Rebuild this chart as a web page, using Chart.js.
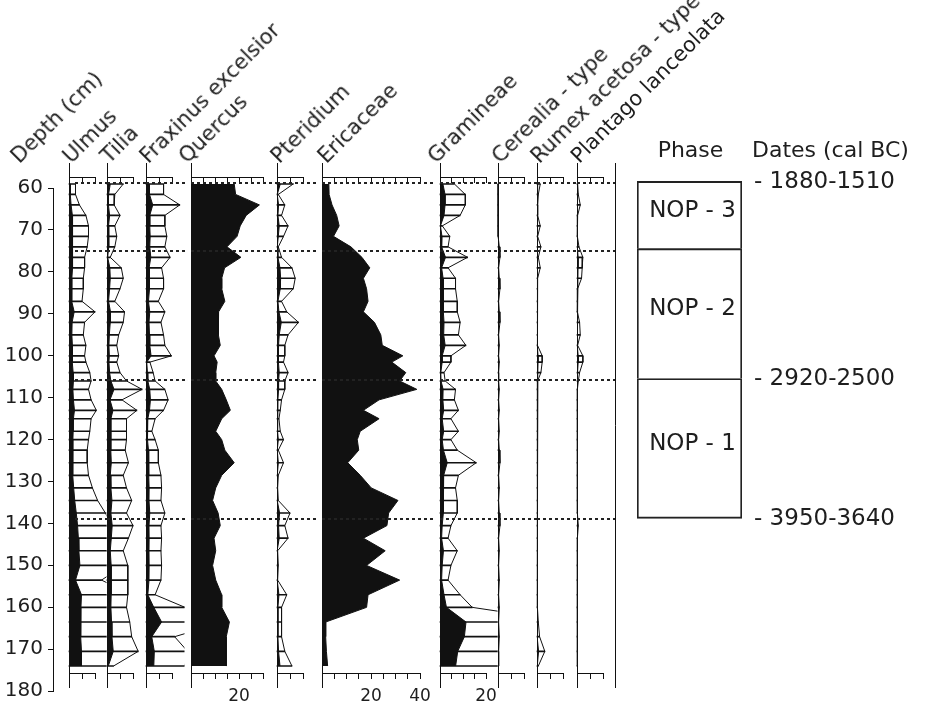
<!DOCTYPE html>
<html>
<head>
<meta charset="utf-8">
<script src="https://cdn.jsdelivr.net/npm/chart.js@4.4.1/dist/chart.umd.min.js"></script>
<style>
  body { margin: 0; background: #fff; }
  #wrap { position: relative; width: 931px; height: 712px; overflow: hidden; font-family: 'DejaVu Sans', sans-serif; color: #1e1e1e; }
  canvas { position: absolute; top: 0; }
  .lab { position: absolute; width: 0; height: 0; transform: rotate(-45deg); transform-origin: 0 0; }
  .lab span { position: absolute; left: 0; bottom: -3px; white-space: nowrap; font-size: 21px; line-height: 21px; }
</style>
</head>
<body>
<div id="wrap"></div>
<script>
// sample depths (cm)
const depths = [59, 61.5, 64, 66.5, 69, 71.5, 74, 76.5, 79, 81.5, 84, 87, 89.5, 92, 95, 97.5, 100, 101.5, 104, 106,
  108, 110.5, 113, 115, 118, 120, 122.5, 125.5, 128.5, 131.5, 134.5, 137.5, 140.5, 143.5, 146.5, 150, 153.5, 157,
  160, 163.5, 167, 170.5, 174];

// pollen percentages, one per depth
const ulmus = [0.5, 0.5, 0.8, 1.3, 1.5, 1.5, 1.4, 1.2, 1.2, 1.1, 1.1, 1.0, 2.0, 1.2, 1.1, 1.3, 1.2, 1.3, 1.6, 1.7,
  1.5, 1.7, 2.1, 1.7, 1.6, 1.5, 1.4, 1.4, 1.5, 1.8, 2.2, 2.8, 3.3, 3.6, 3.8, 4.2, 2.5, 4.8, 4.6, 4.4, 4.6, 4.8, 4.8];
const tilia = [1.25, 0.6, 0.55, 1.0, 0.6, 0.75, 0.6, 0.25, 1.1, 1.25, 1.0, 0.6, 1.35, 1.25, 0.9, 0.75, 0.9, 0.75, 1.0, 1.5,
  2.7, 1.15, 2.3, 1.5, 1.5, 1.5, 1.4, 1.65, 1.25, 1.5, 1.9, 1.5, 2.0, 1.65, 1.25, 1.6, 1.6, 1.6, 1.5, 1.75, 1.9, 2.4, 0.5];
const fraxinus = [1.35, 1.35, 2.6, 1.45, 1.45, 1.6, 1.45, 1.85, 1.2, 1.35, 1.35, 0.95, 1.45, 1.15, 1.35, 1.45, 1.95, 0.3, 0.55, 0.7,
  1.45, 1.7, 1.35, 0.7, 0.45, 0.7, 0.95, 0.95, 1.15, 1.2, 1.15, 1.45, 1.15, 1.2, 1.15, 1.2, 1.15, 0.7, 3.0, 6.0, 2.2, 3.2, 3.0];
const quercus = [18, 18.6, 28.5, 23, 20.5, 19.2, 15, 20.8, 14, 12.8, 12.8, 14.1, 11.5, 11.3, 11.5, 12.2, 9.6, 10.9, 10.3, 10.3,
  12.8, 14.7, 16.4, 12.8, 10.3, 12.8, 14.1, 18, 12.8, 10.3, 9, 11.3, 12.2, 9.6, 10.3, 9, 10.3, 12.8, 12.8, 16, 14.7, 14.7, 14.7];
const pteridium = [1.25, 0.1, 0.6, 0.35, 0.85, 0.5, 0.1, 0.35, 1.15, 1.4, 1.25, 0.35, 0.75, 1.65, 0.85, 0.6, 0.6, 0.5, 0.85, 0.6,
  0.6, 0.35, 0.25, 0.15, 0.25, 0.5, 0.1, 0.5, 0.1, 0.05, 0.1, 1.0, 0.6, 0.85, 0.05, 0.1, 0.05, 0.75, 0.35, 0.35, 0.35, 0.6, 1.15];
const ericaceae = [2.8, 2.9, 4.1, 6.0, 7.0, 4.7, 11.8, 16.3, 19.5, 16.9, 18.2, 18.8, 16.9, 21.4, 24.0, 24.6, 33.0, 28.5, 34.2, 31.7,
  38.7, 23.3, 16.9, 23.3, 15.6, 14.4, 15.0, 10.5, 15.6, 20.1, 31.0, 27.2, 26.5, 16.9, 25.8, 18.2, 31.7, 18.8, 18.2, 1.5, 1.5, 1.8, 2.3];
const gramineae = [1.25, 2.2, 2.2, 1.75, 0.2, 0.85, 0.7, 2.4, 0.7, 1.35, 1.35, 1.5, 1.5, 1.75, 1.6, 2.25, 0.95, 0.95, 0.35, 0.45,
  1.35, 1.25, 1.6, 0.95, 1.6, 0.95, 1.5, 3.15, 1.6, 1.35, 1.5, 1.5, 0.95, 0.7, 1.5, 0.95, 0.7, 1.75, 2.8, 11.3, 10.6, 7.7, 6.8];
const cerealia = [0, 0, 0, 0, 0, 0.05, 0.1, 0.15, 0.05, 0.1, 0.15, 0.05, 0.1, 0.15, 0.05, 0.1, 0.05, 0.1, 0.05, 0.05,
  0.1, 0.05, 0.1, 0.05, 0.1, 0.05, 0.1, 0.15, 0.05, 0.1, 0.05, 0.1, 0.15, 0.05, 0.1, 0.05, 0.1, 0.05, 0.1, 0.05, 0.1, 0.05, 0.05];
const rumex = [0.25, 0.1, 0.05, 0.05, 0.25, 0.05, 0.3, 0.1, 0.25, 0.05, 0.05, 0.03, 0.03, 0.03, 0.03, 0.05, 0.4, 0.4, 0.3, 0.05,
  0.03, 0.03, 0.03, 0.03, 0.03, 0.03, 0.03, 0.03, 0.03, 0.03, 0.03, 0.03, 0.05, 0.03, 0.03, 0.03, 0.03, 0.03, 0.05, 0.1, 0.2, 0.6, 0.1];
const plantago = [0.05, 0.1, 0.25, 0.05, 0.03, 0.03, 0.15, 0.45, 0.4, 0.35, 0.05, 0.03, 0.03, 0.2, 0.25, 0.05, 0.45, 0.45, 0.2, 0.1,
  0.03, 0.03, 0.03, 0.03, 0.03, 0.03, 0.03, 0.03, 0.03, 0.03, 0.03, 0.03, 0.1, 0.03, 0.03, 0.03, 0.03, 0.03, 0.03, 0.03, 0.03, 0.03, 0.03];

const depthTitle = 'Depth (cm)';
const zoneDepths = [58.8, 75, 105.8, 139];
const phaseNames = ['NOP - 3', 'NOP - 2', 'NOP - 1'];
const phaseTops = [58.4, 74.4, 105.4];
const phaseBottoms = [74.4, 105.4, 138.8];
const dateDepths = [58.4, 105.4, 138.8];
const dateLabels = ['1880-1510', '2920-2500', '3950-3640'];

// panel layout: axis x on the page, next axis, scale max (%)
const panels = [
  {name: 'Ulmus', values: ulmus, left: 69, next: 107, max: 10, exag: true, zoneFrom: 6},
  {name: 'Tilia', values: tilia, left: 107, next: 146, max: 10, exag: true},
  {name: 'Fraxinus excelsior', values: fraxinus, left: 146, next: 185, max: 10, exag: true},
  {name: 'Quercus', values: quercus, left: 185, next: 277, max: 30, exag: false, labels: [20]},
  {name: 'Pteridium', values: pteridium, left: 277, next: 316, max: 10, exag: true},
  {name: 'Ericaceae', values: ericaceae, left: 316, next: 434, max: 40, exag: false, labels: [20, 40], labelDx: 11},
  {name: 'Gramineae', values: gramineae, left: 434, next: 498, max: 20, exag: true, labels: [20]},
  {name: 'Cerealia - type', values: cerealia, left: 498, next: 537, max: 10, exag: true},
  {name: 'Rumex acetosa - type', values: rumex, left: 537, next: 577, max: 10, exag: true},
  {name: 'Plantago lanceolata', values: plantago, left: 577, next: 615, max: 10, exag: true, end: true}
];

const PX_PER_PCT = 2.6;
const EXAG = 5;
const DEPTH_MIN = 54, DEPTH_MAX = 179;   // at page y 163 and 687
const H = 712;
const INK = '#111';

Chart.defaults.font.family = "'DejaVu Sans', sans-serif";
Chart.defaults.color = '#1e1e1e';

const wrap = document.getElementById('wrap');

function addCanvas(left, width) {
  const c = document.createElement('canvas');
  c.width = width;
  c.height = H;
  c.style.left = left + 'px';
  wrap.appendChild(c);
  return c;
}

function addLabel(text, x, y) {
  const d = document.createElement('div');
  d.className = 'lab';
  d.style.left = x + 'px';
  d.style.top = y + 'px';
  const s = document.createElement('span');
  s.textContent = text;
  d.appendChild(s);
  wrap.appendChild(d);
}

// dotted zone boundaries
const zoneLines = {
  id: 'zoneLines',
  afterDatasetsDraw(chart, args, opts) {
    const {ctx, chartArea} = chart;
    const y = chart.scales.y;
    ctx.save();
    ctx.strokeStyle = '#222';
    ctx.lineWidth = 2;
    ctx.setLineDash([3, 3]);
    zoneDepths.forEach(d => {
      const py = Math.round(y.getPixelForValue(d));
      ctx.beginPath();
      ctx.moveTo(chartArea.left + (opts.from || 0), py);
      ctx.lineTo(chartArea.right + opts.gap, py);
      ctx.stroke();
    });
    ctx.restore();
  }
};

function pctAxis(p, depth, withLabels) {
  const labs = p.labels || [];
  return {
    type: 'linear', axis: 'x', position: {y: depth}, min: 0, max: p.max, offset: false,
    ticks: {
      display: withLabels && labs.length > 0, stepSize: 5, autoSkip: false, maxRotation: 0, minRotation: 0,
      padding: 8, font: {size: 17}, color: '#1e1e1e',
      callback: v => labs.includes(v) ? String(v) : ''
    },
    grid: {drawOnChartArea: false, tickLength: 5, color: INK, lineWidth: 1},
    border: {display: true, color: INK, width: 1}
  };
}

function depthAxis(position) {
  return {
    type: 'linear', axis: 'y', position, reverse: true, min: DEPTH_MIN, max: DEPTH_MAX, offset: false,
    ticks: {display: false}, grid: {display: false, drawTicks: false, offset: false},
    border: {display: true, color: INK, width: 1}
  };
}

function drawPanel(p) {
  const scaleW = p.max * PX_PER_PCT;
  const span = p.next - p.left;
  const gap = span - scaleW;
  const cw = span + 18;
  const c = addCanvas(p.left - 2, cw);
  const pts = depths.map((d, k) => ({x: p.values[k], y: d}));
  const datasets = [{
    type: 'line', data: pts, xAxisID: 'x', yAxisID: 'y', order: 0, indexAxis: 'y',
    borderColor: INK, backgroundColor: INK, borderWidth: 1, fill: 'origin', pointRadius: 0, tension: 0
  }];
  if (p.exag) {
    const clip = {left: 2, top: 2, right: gap - 0.5, bottom: 2};
    datasets.push({
      type: 'line', data: pts, xAxisID: 'xe', yAxisID: 'y', order: 1, indexAxis: 'y',
      borderColor: INK, borderWidth: 1, fill: false, pointRadius: 0, tension: 0, clip
    });
    datasets.push({
      type: 'bar', data: pts, xAxisID: 'xe', yAxisID: 'y', order: 2, indexAxis: 'y',
      backgroundColor: INK, barThickness: 1, borderWidth: 0, clip
    });
  }
  const scales = {
    y: depthAxis('left'),
    x: pctAxis(p, 57.4, false),
    xb: pctAxis(p, 175.7, true),
    xe: {type: 'linear', axis: 'x', display: false, min: 0, max: p.max / EXAG, offset: false}
  };
  if (p.end) {
    scales.yEnd = depthAxis({x: span / PX_PER_PCT});
  }
  new Chart(c, {
    type: 'line',
    data: {datasets},
    options: {
      indexAxis: 'y',
      responsive: false,
      animation: false,
      events: [],
      layout: {padding: {left: 2, right: cw - 2 - scaleW, top: 163, bottom: H - 687}},
      plugins: {legend: {display: false}, tooltip: {enabled: false}, zoneLines: {from: p.zoneFrom || 0, gap}},
      scales
    },
    plugins: [zoneLines]
  });
  addLabel(p.name, p.left + (p.labelDx || 3), 165);
}

// depth axis
new Chart(addCanvas(0, 62), {
  type: 'line',
  data: {datasets: []},
  options: {
    responsive: false,
    animation: false,
    events: [],
    layout: {padding: {left: 0, right: 0, top: 188, bottom: H - 691}},
    plugins: {legend: {display: false}, tooltip: {enabled: false}},
    scales: {
      x: {type: 'linear', display: false, min: 0, max: 1},
      y: {
        type: 'linear', position: 'left', reverse: true, min: 60, max: 180,
        ticks: {stepSize: 10, padding: 5, font: {size: 20}, color: '#1e1e1e'},
        grid: {drawOnChartArea: false, tickLength: 5, color: INK},
        border: {display: true, color: INK, width: 1},
        afterFit: s => { s.width = 53; }
      }
    }
  }
});
addLabel(depthTitle, 20, 165);

panels.forEach(drawPanel);

// phase column with dates
const phaseText = {
  id: 'phaseText',
  afterDatasetsDraw(chart) {
    const {ctx, chartArea} = chart;
    const y = chart.scales.y;
    ctx.save();
    ctx.fillStyle = '#1e1e1e';
    ctx.textAlign = 'center';
    ctx.textBaseline = 'middle';
    ctx.font = "23px 'DejaVu Sans'";
    let cx = 0;
    chart.data.datasets.forEach((ds, i) => {
      const el = chart.getDatasetMeta(i).data[0];
      cx = el.x;
      ctx.fillText(ds.label, el.x + 3, (el.y + el.base) / 2 - 4);
    });
    ctx.textBaseline = 'alphabetic';
    ctx.font = "22px 'DejaVu Sans'";
    ctx.fillText('Phase', cx + 1, chartArea.top - 6);
    ctx.textAlign = 'left';
    ctx.fillText('Dates (cal BC)', chartArea.right + 10, chartArea.top - 6);
    ctx.font = "23px 'DejaVu Sans'";
    ctx.textBaseline = 'middle';
    dateDepths.forEach((d, i) => {
      ctx.fillText('- ' + dateLabels[i], chartArea.right + 12, y.getPixelForValue(d) + 1);
    });
    ctx.restore();
  }
};

const BOX_W = 1.3;
new Chart(addCanvas(615, 316), {
  type: 'bar',
  data: {
    labels: ['Phase'],
    datasets: phaseNames.map((n, i) => ({
      label: n,
      data: [[phaseTops[i], phaseBottoms[i]]],
      backgroundColor: 'rgba(0,0,0,0)',
      borderColor: '#222',
      borderWidth: {top: BOX_W, left: BOX_W, right: BOX_W, bottom: i === phaseNames.length - 1 ? BOX_W : 0},
      borderSkipped: false,
      barPercentage: 1,
      categoryPercentage: 1,
      grouped: false
    }))
  },
  options: {
    responsive: false,
    animation: false,
    events: [],
    layout: {padding: {left: 22, right: 189, top: 163, bottom: H - 687}},
    plugins: {legend: {display: false}, tooltip: {enabled: false}},
    scales: {
      x: {display: false},
      y: {display: false, reverse: true, min: DEPTH_MIN, max: DEPTH_MAX}
    }
  },
  plugins: [phaseText]
});
</script>
</body>
</html>
